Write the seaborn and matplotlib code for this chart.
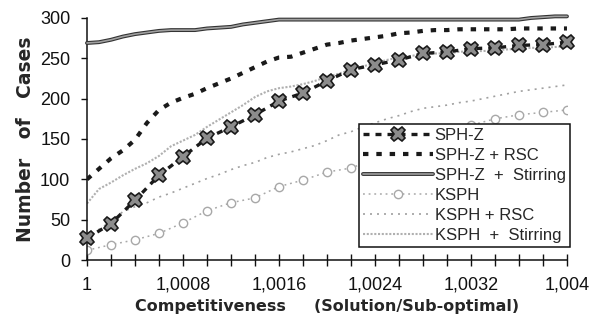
import numpy as np
import matplotlib
matplotlib.use("Agg")
import matplotlib.pyplot as plt
import matplotlib.patheffects as pe
import seaborn as sns

# Competitiveness ratio grids: fine steps for the plain curves, coarse steps for the marked ones
x_fine = [1 + 0.0001 * i for i in range(41)]
x_coarse = [1 + 0.0002 * i for i in range(21)]

sph_z = [27, 45, 74, 105, 128, 151, 165, 180, 197, 207, 222, 236, 242, 248,
         256, 258, 262, 263, 266, 267, 270]
sph_z_rsc = [100, 113, 126, 136, 149, 170, 186, 195, 201, 206, 213, 219, 225, 232,
             239, 246, 251, 252, 257, 262, 267, 269, 272, 274, 276, 278, 281, 282,
             284, 285, 285, 286, 286, 286, 286, 286, 287, 287, 287, 287, 287]
sph_z_stirring = [269, 270, 273, 277, 280, 282, 284, 285, 285, 285, 287, 288, 289, 292,
                  294, 296, 298, 298, 298, 298, 298, 298, 298, 298, 298, 298, 298, 298,
                  298, 298, 298, 298, 298, 298, 298, 298, 298, 300, 301, 302, 302]
ksph = [12, 19, 25, 33, 46, 61, 71, 77, 91, 99, 109, 114, 125, 137, 148, 158, 167,
        175, 180, 183, 186]
ksph_rsc = [27, 38, 48, 60, 66, 71, 78, 83, 89, 95, 101, 106, 112, 117, 121, 127, 131,
            134, 138, 142, 148, 155, 159, 165, 170, 175, 179, 184, 188, 190, 192, 195,
            197, 200, 203, 206, 209, 211, 213, 215, 217]
ksph_stirring = [70, 88, 96, 105, 113, 120, 129, 141, 148, 155, 165, 174, 183, 192, 202,
                 209, 213, 215, 218, 222, 227, 231, 236, 240, 244, 248, 251, 253, 255,
                 256, 256, 258, 259, 259, 260, 261, 262, 263, 263, 264, 265]

x_tick_values = [1 + 0.0002 * i for i in range(21)]
x_tick_labels = ["1", "", "", "", "1,0008", "", "", "", "1,0016", "", "", "",
                 "1,0024", "", "", "", "1,0032", "", "", "", "1,004"]
y_tick_values = [0, 50, 100, 150, 200, 250, 300]

sns.set_style("ticks")
plt.rcParams["font.family"] = ["Liberation Sans", "DejaVu Sans"]

fig = plt.figure(figsize=(5.97, 3.24), dpi=100)
ax = fig.add_axes([0.1457, 0.1975, 0.804, 0.747])

sns.lineplot(x=x_fine, y=ksph_stirring, ax=ax, errorbar=None, color="#b0b0b0",
             linewidth=1.5, linestyle=(0, (1, 0.8)), label="KSPH  +  Stirring", zorder=2)
sns.lineplot(x=x_fine, y=ksph_rsc, ax=ax, errorbar=None, color="#a0a0a0",
             linewidth=1.2, linestyle=(0, (1.2, 3)), label="KSPH + RSC", zorder=2)
sns.lineplot(x=x_coarse, y=ksph, ax=ax, errorbar=None, color="#a8a8a8",
             linewidth=1.1, linestyle=(0, (1.2, 2.5)), marker="o", markersize=6,
             markerfacecolor="white", markeredgecolor="#a8a8a8", markeredgewidth=1.0,
             label="KSPH", zorder=2)
sns.lineplot(x=x_fine, y=sph_z_stirring, ax=ax, errorbar=None, color="#a0a0a0",
             linewidth=1.2, label="SPH-Z  +  Stirring", zorder=3, clip_on=False,
             path_effects=[pe.Stroke(linewidth=2.8, foreground="#333333"), pe.Normal()])
sns.lineplot(x=x_fine, y=sph_z_rsc, ax=ax, errorbar=None, color="#1a1a1a",
             linewidth=3.0, linestyle=(0, (1.3, 1.9)), label="SPH-Z + RSC", zorder=3)
sns.lineplot(x=x_coarse, y=sph_z, ax=ax, errorbar=None, color="#1a1a1a",
             linewidth=2.4, linestyle=(0, (1.8, 1.8)), marker="X", markersize=10.5,
             markerfacecolor="#8c8c8c", markeredgecolor="#1a1a1a", markeredgewidth=1.2,
             label="SPH-Z", zorder=4, clip_on=False)

ax.set_xlim(1, 1.004)
ax.set_ylim(0, 300)
ax.set_xticks(x_tick_values)
ax.set_xticklabels(x_tick_labels)
ax.set_yticks(y_tick_values)
ax.set_yticklabels([str(v) for v in y_tick_values])
ax.tick_params(axis="x", direction="inout", length=8, width=1, pad=8,
               labelsize=13, colors="#111111")
ax.tick_params(axis="y", direction="out", length=4, width=1, pad=8,
               labelsize=13, colors="#111111")
sns.despine(ax=ax)
for side in ("left", "bottom"):
    ax.spines[side].set_color("#111111")
    ax.spines[side].set_linewidth(1.1)

ax.set_xlabel("Competitiveness     (Solution/Sub-optimal)", fontsize=11.5,
              fontweight="bold", family=["DejaVu Sans"], labelpad=4)
ax.set_ylabel("Number   of   Cases", fontsize=13.5, fontweight="bold",
              family=["DejaVu Sans"], labelpad=4)

handles, labels = ax.get_legend_handles_labels()
order = ["SPH-Z", "SPH-Z + RSC", "SPH-Z  +  Stirring", "KSPH", "KSPH + RSC",
         "KSPH  +  Stirring"]
lookup = dict(zip(labels, handles))
leg = ax.legend([lookup[k] for k in order], order, loc="upper right",
                bbox_to_anchor=(1.006, 0.562), borderaxespad=0, fontsize=12,
                handlelength=4.2, handletextpad=0.1, labelspacing=0.3,
                borderpad=0.25, fancybox=False, framealpha=1, edgecolor="#111111")
leg.get_frame().set_linewidth(1.1)
leg.set_zorder(5)

fig.savefig("out.png", dpi=100)
